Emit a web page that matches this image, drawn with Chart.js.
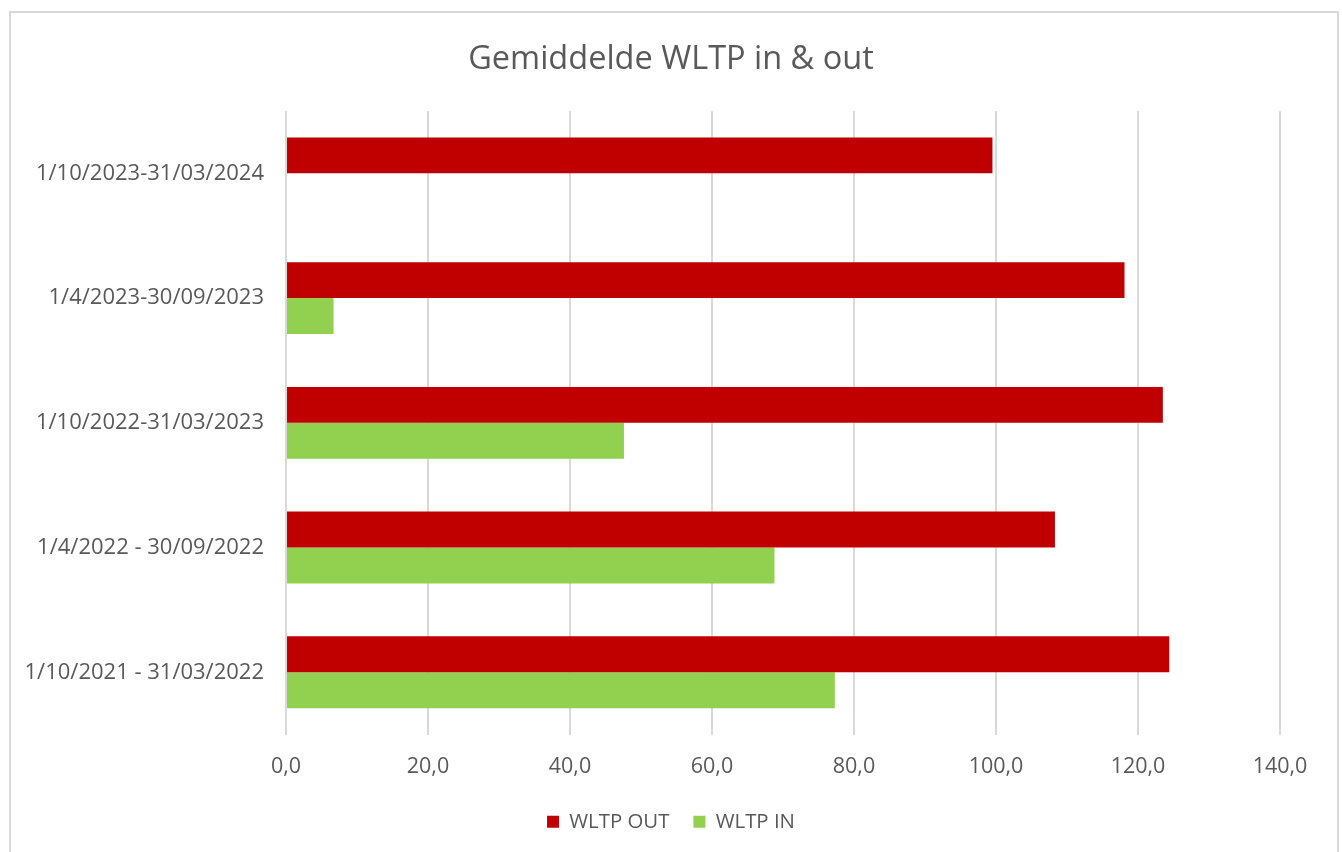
<!DOCTYPE html>
<html>
<head>
<meta charset="utf-8">
<script src="https://cdn.jsdelivr.net/npm/chart.js@4/dist/chart.umd.min.js"></script>
<style>
    html, body { margin: 0; padding: 0; background: #ffffff; }
    #wrap { position: absolute; left: 0; top: 0; width: 1342px; height: 852px; }
</style>
</head>
<body>
<div id="wrap"><canvas id="wltpChart" width="1342" height="852"></canvas></div>
<script>
// Periods, top to bottom as shown
const periods = [
    '1/10/2023-31/03/2024',
    '1/4/2023-30/09/2023',
    '1/10/2022-31/03/2023',
    '1/4/2022 - 30/09/2022',
    '1/10/2021 - 31/03/2022'
];
const wltpOut = [99.5, 118.1, 123.5, 108.3, 124.4];
const wltpIn = [null, 6.7, 47.6, 68.8, 77.3];
const xTicks = [0, 20, 40, 60, 80, 100, 120, 140];

const textGrey = '#595959';
const fontFamily = "'Open Sans', 'Noto Sans', sans-serif";

// Outer frame like the Excel chart box
const frame = {
    id: 'frame',
    beforeDraw(chart) {
        const c = chart.ctx;
        c.save();
        c.fillStyle = '#ffffff';
        c.fillRect(0, 0, chart.width, chart.height);
        c.strokeStyle = '#d9d9d9';
        c.lineWidth = 2;
        c.strokeRect(10, 12, 1328, 900);
        c.restore();
    }
};

document.addEventListener('DOMContentLoaded', function() {
    const ctx = document.getElementById('wltpChart');

    new Chart(ctx, {
        type: 'bar',
        data: {
            labels: periods,
            datasets: [
                {
                    label: 'WLTP OUT',
                    data: wltpOut,
                    backgroundColor: '#c00000'
                },
                {
                    label: 'WLTP IN',
                    data: wltpIn,
                    backgroundColor: '#92d050'
                }
            ]
        },
        options: {
            indexAxis: 'y',
            responsive: false,
            animation: false,
            devicePixelRatio: 1,
            categoryPercentage: 0.576,
            barPercentage: 1,
            layout: {
                padding: { top: 40, right: 0, bottom: 10, left: 0 }
            },
            scales: {
                x: {
                    min: 0,
                    max: 140,
                    afterBuildTicks: function(scale) {
                        scale.ticks = xTicks.map(v => ({ value: v }));
                    },
                    afterFit: function(scale) {
                        scale.height = 53;
                    },
                    ticks: {
                        color: textGrey,
                        padding: 19,
                        font: { family: fontFamily, size: 21.5 },
                        callback: function(value) {
                            return Number(value).toFixed(1).replace('.', ',');
                        }
                    },
                    grid: {
                        color: '#d9d9d9',
                        lineWidth: 2,
                        drawTicks: false
                    },
                    border: { display: false }
                },
                y: {
                    afterFit: function(scale) {
                        scale.width = 286;
                    },
                    ticks: {
                        color: textGrey,
                        padding: 22,
                        font: { family: fontFamily, size: 22 }
                    },
                    grid: { display: false, drawTicks: false },
                    border: { display: false }
                },
                // empty right-hand spacer so the plot ends at 140,0 like the original
                spacer: {
                    type: 'category',
                    position: 'right',
                    afterFit: function(scale) {
                        scale.width = 62;
                    },
                    ticks: { display: false },
                    grid: { display: false, drawTicks: false },
                    border: { display: false }
                }
            },
            plugins: {
                title: {
                    display: true,
                    text: 'Gemiddelde WLTP in & out',
                    color: textGrey,
                    font: { family: fontFamily, size: 32.5, weight: 'normal' },
                    padding: { top: 0, bottom: 32 }
                },
                legend: {
                    position: 'bottom',
                    labels: {
                        color: textGrey,
                        boxWidth: 12,
                        boxHeight: 12,
                        padding: 24,
                        font: { family: fontFamily, size: 20.4 }
                    }
                },
                tooltip: { enabled: false }
            }
        },
        plugins: [frame]
    });
});
</script>
</body>
</html>
